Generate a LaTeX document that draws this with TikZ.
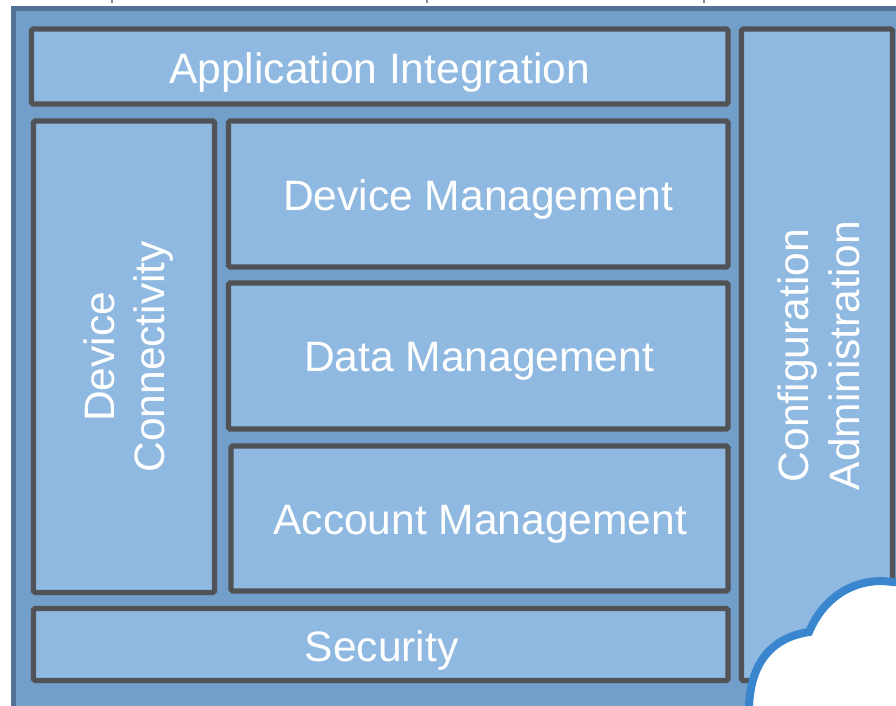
\documentclass[tikz,border=0pt]{standalone}
\usepackage{fontspec}
\setmainfont{Liberation Sans}

\definecolor{panelfill}{HTML}{729FC9}
\definecolor{paneledge}{HTML}{527297}
\definecolor{blockfill}{HTML}{8FB9E1}
\definecolor{blockedge}{HTML}{515256}
\definecolor{cloudedge}{HTML}{3A86CE}

\tikzset{
  panel/.style={rectangle, draw=paneledge, fill=panelfill, line width=0.125cm, anchor=north west, outer sep=0pt},
  block/.style={rectangle, draw=blockedge, fill=blockfill, line width=0.135cm, rounded corners=0.04cm, anchor=north west, outer sep=0pt},
  blocktext/.style={text=white, align=center, font=\fontsize{30.25}{36}\selectfont},
  tickmark/.style={draw=black!45, line width=0.03cm}
}

\begin{document}
\begin{tikzpicture}

\clip (0,0) rectangle (22.4,17.625);

\draw [tickmark] (2.8,17.625) -- +(0,-0.08);
\draw [tickmark] (10.675,17.625) -- +(0,-0.08);
\draw [tickmark] (17.6,17.625) -- +(0,-0.08);

\draw (0.3375,17.4125) node (frame) [panel, minimum width=24cm, minimum height=19cm] {};

\draw (0.7875,16.9) node (appint) [block, minimum width=17.4125cm, minimum height=1.875cm] {};
\draw (appint) node (appinttext) [blocktext, yshift=-0.14cm] {Application Integration};

\draw (0.8375,14.6) node (devconn) [block, minimum width=4.525cm, minimum height=11.7875cm] {};
\draw (devconn) node (devconntext) [blocktext, xshift=0.11cm, rotate=90] {Device\\Connectivity};

\draw (5.7125,14.6) node (devmgmt) [block, minimum width=12.4875cm, minimum height=3.65cm] {};
\draw (devmgmt) node (devmgmttext) [blocktext, yshift=-0.14cm] {Device Management};

\draw (5.7125,10.55) node (datamgmt) [block, minimum width=12.4875cm, minimum height=3.65cm] {};
\draw (datamgmt) node (datamgmttext) [blocktext, xshift=0.02cm, yshift=-0.14cm] {Data Management};

\draw (5.775,6.475) node (acctmgmt) [block, minimum width=12.425cm, minimum height=3.625cm] {};
\draw (acctmgmt) node (acctmgmttext) [blocktext, xshift=0.02cm, yshift=-0.14cm] {Account Management};

\draw (0.8375,2.4125) node (security) [block, minimum width=17.3625cm, minimum height=1.8cm] {};
\draw (security) node (securitytext) [blocktext, xshift=0.02cm, yshift=-0.14cm] {Security};

\draw (18.5375,16.9) node (config) [block, minimum width=3.775cm, minimum height=16.2875cm] {};
\draw (config) node (configtext) [blocktext, xshift=0.05cm, yshift=-0.02cm, rotate=90] {Configuration\\Administration};

\draw [cloudedge, fill=white, line width=0.2cm] (18.725,-0.175) .. controls (18.72,1.0) and (19.25,1.68) .. (20.225,1.825)
  .. controls (20.55,2.6) and (21.2,3.1) .. (22.05,3.1) -- (22.625,3.05) -- (22.625,-0.175) -- cycle;

\end{tikzpicture}
\end{document}
